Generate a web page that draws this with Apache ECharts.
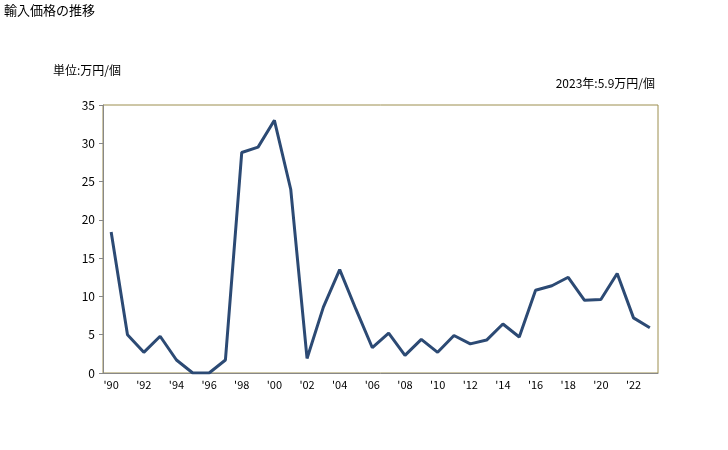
<!DOCTYPE html>
<html><head><meta charset="utf-8">
<script src="https://cdn.jsdelivr.net/npm/echarts@6/dist/echarts.min.js"></script>
<style>html,body{margin:0;padding:0;background:#fff}#c{width:728px;height:450px}</style>
</head><body><div id="c"></div>
<script>
const years = ["1990","1991","1992","1993","1994","1995","1996","1997","1998","1999","2000","2001","2002","2003","2004","2005","2006","2007","2008","2009","2010","2011","2012","2013","2014","2015","2016","2017","2018","2019","2020","2021","2022","2023"];
const values = [18.4,5.0,2.7,4.8,1.7,0.0,0.0,1.7,28.8,29.5,33.0,24.0,1.9,8.6,13.5,8.3,3.3,5.2,2.3,4.4,2.7,4.9,3.8,4.3,6.4,4.7,10.8,11.4,12.5,9.5,9.6,13.0,7.2,5.9];
const titleText = "輸入価格の推移";
const unitText = "単位:万円/個";
const noteText = "2023年:5.9万円/個";
const font = "'Noto Sans CJK JP', 'Noto Sans', sans-serif";
const chart = echarts.init(document.getElementById('c'), null, {renderer:'canvas'});
chart.setOption({
  animation:false,
  backgroundColor:'#fff',
  title:[
    {text:titleText,left:4,top:4,padding:0,textStyle:{fontSize:13,fontWeight:'normal',color:'#000',fontFamily:font}},
    {text:unitText,left:53,top:64,padding:0,textStyle:{fontSize:12,fontWeight:'normal',color:'#000',fontFamily:font}},
    {text:noteText,right:73,top:77,padding:0,textStyle:{fontSize:12,fontWeight:'normal',color:'#000',fontFamily:font}}
  ],
  grid:{left:103,right:70,top:105,bottom:77,show:true,borderColor:'#9C8E4E',borderWidth:1,backgroundColor:'transparent'},
  xAxis:{type:'category',data:years,boundaryGap:true,
    axisLine:{show:true,lineStyle:{color:'#888',width:1}},
    axisTick:{show:false},
    axisLabel:{interval:0,color:'#000',fontSize:11,fontFamily:font,margin:6,
      formatter:function(v,i){return (i%2===0)?"'"+v.slice(2):'';}},
    splitLine:{show:false}},
  yAxis:{type:'value',min:0,max:35,interval:5,
    axisLine:{show:true,lineStyle:{color:'#888',width:1}},
    axisTick:{show:true,length:4,inside:false,lineStyle:{color:'#888'}},
    axisLabel:{color:'#000',fontSize:12,fontFamily:font,margin:8},
    splitLine:{show:false}},
  series:[{type:'line',data:values,symbol:'none',lineStyle:{color:'#2C4A74',width:3},itemStyle:{color:'#2C4A74'}}]
});
</script></body></html>
